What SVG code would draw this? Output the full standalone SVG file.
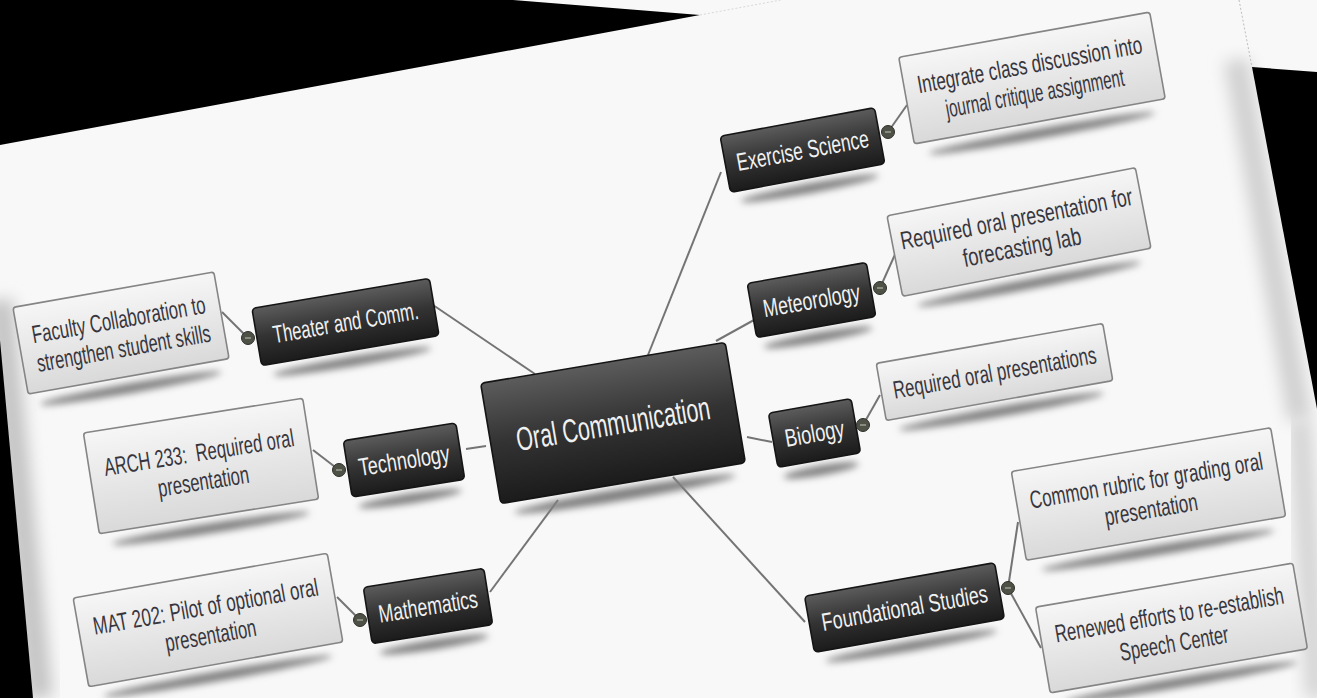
<svg xmlns="http://www.w3.org/2000/svg" width="1317" height="698" viewBox="0 0 1317 698">
<defs>
<linearGradient id="gLeaf" x1="0" y1="0" x2="0" y2="1"><stop offset="0" stop-color="#f6f6f6"/><stop offset="1" stop-color="#d9d9d9"/></linearGradient>
<linearGradient id="gDark" x1="0" y1="0" x2="0" y2="1"><stop offset="0" stop-color="#5c5c5c"/><stop offset="0.5" stop-color="#333"/><stop offset="1" stop-color="#1b1b1b"/></linearGradient>
<filter id="fBlur" x="-0.3" y="-3" width="1.6" height="7"><feGaussianBlur stdDeviation="3.5"/></filter>
<filter id="fSoft" x="-0.5" y="-0.2" width="2" height="1.4"><feGaussianBlur stdDeviation="8"/></filter>
<style>
.leaf{fill:url(#gLeaf);stroke:#858585;stroke-width:1.6}
.dark{fill:url(#gDark);stroke:#151515;stroke-width:1.6}
.sh{fill:#808080;filter:url(#fBlur)}
.lt{font-family:"Liberation Sans",Arial,sans-serif;font-size:25px;fill:#38363d;text-anchor:middle}
.dt{font-family:"Liberation Sans",Arial,sans-serif;font-size:25px;fill:#f1f1f1;text-anchor:middle}
.ct{font-family:"Liberation Sans",Arial,sans-serif;font-size:33px;fill:#f1f1f1;text-anchor:middle}
.ln{stroke:#747474;stroke-width:2;fill:none}
.dot{fill:#4e5146;stroke:#2e2f2a;stroke-width:1}
.dm{stroke:#a3a598;stroke-width:1.4}
</style>
</defs>
<rect width="1317" height="698" fill="#f8f8f8"/>
<line x1="0" y1="300" x2="40" y2="698" stroke="#c4c4c4" stroke-width="26" filter="url(#fSoft)"/>
<line x1="1236" y1="60" x2="1300" y2="420" stroke="#d0d0d0" stroke-width="24" filter="url(#fSoft)"/>
<line x1="1300" y1="420" x2="1317" y2="698" stroke="#d6d6d6" stroke-width="24" filter="url(#fSoft)"/>
<polygon points="0,0 513,0 700,15 0,145" fill="#000"/>
<polygon points="1252,67 1317,72 1317,409" fill="#000"/>
<polygon points="0,340 33,698 0,698" fill="#000"/>
<line x1="700" y1="15" x2="781" y2="0" stroke="#d8d8d8" stroke-width="1" stroke-dasharray="2,2"/>
<line x1="1239" y1="0" x2="1252" y2="67" stroke="#bdbdbd" stroke-width="1" stroke-dasharray="2,2"/>

<g id="connectors">
<line class="ln" x1="433" y1="305" x2="535" y2="374"/>
<line class="ln" x1="466" y1="449" x2="486" y2="446"/>
<line class="ln" x1="490" y1="592" x2="558" y2="500"/>
<line class="ln" x1="721" y1="172" x2="648" y2="355"/>
<line class="ln" x1="754" y1="320" x2="716" y2="341"/>
<line class="ln" x1="772" y1="442" x2="747" y2="437"/>
<line class="ln" x1="805" y1="622" x2="673" y2="477"/>
<line class="ln" x1="222" y1="312" x2="248" y2="338"/>
<line class="ln" x1="313" y1="450" x2="339" y2="470"/>
<line class="ln" x1="337" y1="597" x2="360" y2="620"/>
<line class="ln" x1="888" y1="132" x2="907" y2="105"/>
<line class="ln" x1="880" y1="288" x2="897" y2="250"/>
<line class="ln" x1="863" y1="425" x2="880" y2="395"/>
<line class="ln" x1="1008" y1="588" x2="1018" y2="522"/>
<line class="ln" x1="1008" y1="588" x2="1041" y2="648"/>
</g>

<g id="node-center" transform="translate(613,423) rotate(-9.5)">
<ellipse class="sh" cx="0" cy="72" rx="112" ry="6"/>
<rect class="dark" x="-124" y="-61" width="248" height="122" rx="4"/>
<text class="ct" x="0" y="12" textLength="196" lengthAdjust="spacingAndGlyphs">Oral Communication</text>
</g>

<g id="node-theater" transform="translate(345.5,322) rotate(-9.6)">
<ellipse class="sh" cx="0" cy="40" rx="80" ry="5"/>
<rect class="dark" x="-90" y="-29" width="180" height="58" rx="4"/>
<text class="dt" x="0" y="9" textLength="147" lengthAdjust="spacingAndGlyphs">Theater and Comm.</text>
</g>
<g id="node-faculty" transform="translate(121,333) rotate(-10)">
<ellipse class="sh" cx="0" cy="56" rx="92" ry="5"/>
<rect class="leaf" x="-102" y="-44" width="204" height="88" rx="3"/>
<text class="lt" x="0" y="-5" textLength="176" lengthAdjust="spacingAndGlyphs">Faculty Collaboration to</text>
<text class="lt" x="0" y="24" textLength="176" lengthAdjust="spacingAndGlyphs">strengthen student skills</text>
</g>

<g id="node-technology" transform="translate(404,460) rotate(-9)">
<ellipse class="sh" cx="0" cy="39" rx="52" ry="5"/>
<rect class="dark" x="-57" y="-28.5" width="114" height="57" rx="4"/>
<text class="dt" x="0" y="9" textLength="92" lengthAdjust="spacingAndGlyphs">Technology</text>
</g>
<g id="node-arch" transform="translate(201,466) rotate(-9)">
<ellipse class="sh" cx="0" cy="63" rx="100" ry="5"/>
<rect class="leaf" x="-111" y="-51" width="222" height="102" rx="3"/>
<text class="lt" x="0" y="-5" textLength="192" lengthAdjust="spacingAndGlyphs" xml:space="preserve">ARCH 233:  Required oral</text>
<text class="lt" x="0" y="24" textLength="92" lengthAdjust="spacingAndGlyphs">presentation</text>
</g>

<g id="node-mathematics" transform="translate(428,606) rotate(-9)">
<ellipse class="sh" cx="0" cy="39" rx="55" ry="5"/>
<rect class="dark" x="-61" y="-28.5" width="122" height="57" rx="4"/>
<text class="dt" x="0" y="9" textLength="100" lengthAdjust="spacingAndGlyphs">Mathematics</text>
</g>
<g id="node-mat" transform="translate(208,620) rotate(-10)">
<ellipse class="sh" cx="0" cy="57" rx="116" ry="5"/>
<rect class="leaf" x="-129" y="-45" width="258" height="90" rx="3"/>
<text class="lt" x="0" y="-5" textLength="228" lengthAdjust="spacingAndGlyphs">MAT 202: Pilot of optional oral</text>
<text class="lt" x="0" y="24" textLength="92" lengthAdjust="spacingAndGlyphs">presentation</text>
</g>

<g id="node-exercise" transform="translate(802.5,150) rotate(-10.5)">
<ellipse class="sh" cx="0" cy="39" rx="70" ry="5"/>
<rect class="dark" x="-78.5" y="-28.5" width="157" height="57" rx="4"/>
<text class="dt" x="0" y="9" textLength="134" lengthAdjust="spacingAndGlyphs">Exercise Science</text>
</g>
<g id="node-integrate" transform="translate(1032,78) rotate(-10.2)">
<ellipse class="sh" cx="0" cy="56" rx="115" ry="5"/>
<rect class="leaf" x="-127.5" y="-44" width="255" height="88" rx="3"/>
<text class="lt" x="0" y="-5" textLength="228" lengthAdjust="spacingAndGlyphs">Integrate class discussion into</text>
<text class="lt" x="0" y="24" textLength="181" lengthAdjust="spacingAndGlyphs">journal critique assignment</text>
</g>

<g id="node-meteorology" transform="translate(811.5,300) rotate(-10)">
<ellipse class="sh" cx="0" cy="38" rx="55" ry="5"/>
<rect class="dark" x="-60.5" y="-27.5" width="121" height="55" rx="4"/>
<text class="dt" x="0" y="9" textLength="98" lengthAdjust="spacingAndGlyphs">Meteorology</text>
</g>
<g id="node-forecasting" transform="translate(1019,232) rotate(-11)">
<ellipse class="sh" cx="0" cy="53" rx="114" ry="5"/>
<rect class="leaf" x="-126.5" y="-41" width="253" height="82" rx="3"/>
<text class="lt" x="0" y="-5" textLength="236" lengthAdjust="spacingAndGlyphs">Required oral presentation for</text>
<text class="lt" x="0" y="24" textLength="120" lengthAdjust="spacingAndGlyphs">forecasting lab</text>
</g>

<g id="node-biology" transform="translate(814.5,433) rotate(-10)">
<ellipse class="sh" cx="0" cy="38" rx="38" ry="5"/>
<rect class="dark" x="-42" y="-27.5" width="84" height="55" rx="4"/>
<text class="dt" x="0" y="9" textLength="60" lengthAdjust="spacingAndGlyphs">Biology</text>
</g>
<g id="node-rop" transform="translate(994.5,372) rotate(-10)">
<ellipse class="sh" cx="0" cy="40" rx="104" ry="5"/>
<rect class="leaf" x="-115" y="-29" width="230" height="58" rx="3"/>
<text class="lt" x="0" y="9" textLength="206" lengthAdjust="spacingAndGlyphs">Required oral presentations</text>
</g>

<g id="node-foundational" transform="translate(904.5,607.5) rotate(-10)">
<ellipse class="sh" cx="0" cy="39" rx="87" ry="5"/>
<rect class="dark" x="-96.5" y="-28.5" width="193" height="57" rx="4"/>
<text class="dt" x="0" y="9" textLength="168" lengthAdjust="spacingAndGlyphs">Foundational Studies</text>
</g>
<g id="node-common" transform="translate(1148.5,494) rotate(-9.6)">
<ellipse class="sh" cx="0" cy="57" rx="118" ry="5"/>
<rect class="leaf" x="-131.5" y="-45" width="263" height="90" rx="3"/>
<text class="lt" x="0" y="-5" transform="scale(0.68,1)" textLength="347" lengthAdjust="spacingAndGlyphs">Common rubric for grading oral</text>
<text class="lt" x="0" y="24" textLength="94" lengthAdjust="spacingAndGlyphs">presentation</text>
</g>
<g id="node-renewed" transform="translate(1171.5,628) rotate(-9.7)">
<ellipse class="sh" cx="0" cy="55" rx="118" ry="5"/>
<rect class="leaf" x="-130.5" y="-43.5" width="261" height="87" rx="3"/>
<text class="lt" x="0" y="-5" transform="scale(0.67,1)" textLength="346" lengthAdjust="spacingAndGlyphs">Renewed efforts to re-establish</text>
<text class="lt" x="0" y="24" textLength="110" lengthAdjust="spacingAndGlyphs">Speech Center</text>
</g>

<g id="toggles">
<g transform="translate(248,338)"><circle class="dot" r="6.5"/><line class="dm" x1="-3" y1="0" x2="3" y2="0"/></g>
<g transform="translate(339,470)"><circle class="dot" r="6.5"/><line class="dm" x1="-3" y1="0" x2="3" y2="0"/></g>
<g transform="translate(360,620)"><circle class="dot" r="6.5"/><line class="dm" x1="-3" y1="0" x2="3" y2="0"/></g>
<g transform="translate(888,132)"><circle class="dot" r="6.5"/><line class="dm" x1="-3" y1="0" x2="3" y2="0"/></g>
<g transform="translate(880,288)"><circle class="dot" r="6.5"/><line class="dm" x1="-3" y1="0" x2="3" y2="0"/></g>
<g transform="translate(863,425)"><circle class="dot" r="6.5"/><line class="dm" x1="-3" y1="0" x2="3" y2="0"/></g>
<g transform="translate(1008,588)"><circle class="dot" r="6.5"/><line class="dm" x1="-3" y1="0" x2="3" y2="0"/></g>
</g>
</svg>
